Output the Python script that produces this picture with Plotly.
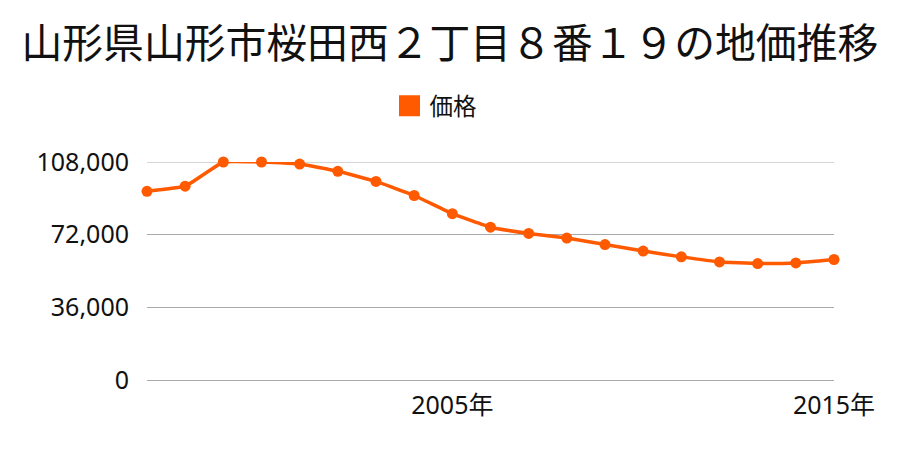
import plotly.graph_objects as go

title = "山形県山形市桜田西２丁目８番１９の地価推移"
series_name = "価格"
years = list(range(1997, 2016))
prices = [93500, 96000, 108000, 108000, 107000, 103400, 98400, 91400, 82400,
          75700, 72600, 70300, 67100, 63900, 61000, 58500, 57700, 58000, 59700]
ytick_vals = [0, 36000, 72000, 108000]
ytick_text = ["0", "36,000", "72,000", "108,000"]
xtick_vals = [2005, 2015]
xtick_text = ["2005年", "2015年"]

color = "#ff5a00"
font_family = "Noto Sans, Noto Sans CJK JP, sans-serif"

fig = go.Figure()
fig.add_trace(go.Scatter(
    x=years, y=prices, mode="lines+markers",
    line=dict(color=color, width=3.5, shape="spline", smoothing=0.3),
    marker=dict(color=color, size=11),
    showlegend=False, name=series_name, cliponaxis=False,
))
fig.add_trace(go.Scatter(
    x=[None], y=[None], mode="markers", name=series_name,
    marker=dict(color=color, size=16, symbol="square",
                line=dict(color=color, width=7)),
    showlegend=True,
))

fig.update_layout(
    width=900, height=450,
    paper_bgcolor="white", plot_bgcolor="white",
    font=dict(family=font_family, color="#111111", size=25),
    title=dict(text=title, x=0.491, xanchor="center", y=0.92, yanchor="middle",
               font=dict(size=40.8, color="#111111", family="Noto Sans CJK JP, sans-serif")),
    margin=dict(l=139, r=74, t=154, b=78, autoexpand=False),
    legend=dict(orientation="h", x=0.353, xanchor="left", y=1.257, yanchor="middle",
                font=dict(size=23.5, family="Noto Sans CJK JP, sans-serif"),
                bgcolor="rgba(0,0,0,0)"),
    xaxis=dict(range=[1997, 2015], tickvals=xtick_vals, ticktext=xtick_text,
               showgrid=False, zeroline=False, showline=False, ticks="",
               tickfont=dict(size=25), automargin=False, ticklabelstandoff=8),
    yaxis=dict(range=[0, 108000], tickvals=ytick_vals, ticktext=ytick_text,
               showgrid=True, gridcolor="#aaaaaa", gridwidth=1,
               zeroline=True, zerolinecolor="#aaaaaa", zerolinewidth=1,
               showline=False, ticks="", automargin=False,
               tickfont=dict(size=25), ticklabelstandoff=17),
)
# draw the top grid line explicitly at the upper bound
fig.add_hline(y=ytick_vals[-1], line=dict(color="#aaaaaa", width=1), layer="below")

fig.write_html("out.html")
